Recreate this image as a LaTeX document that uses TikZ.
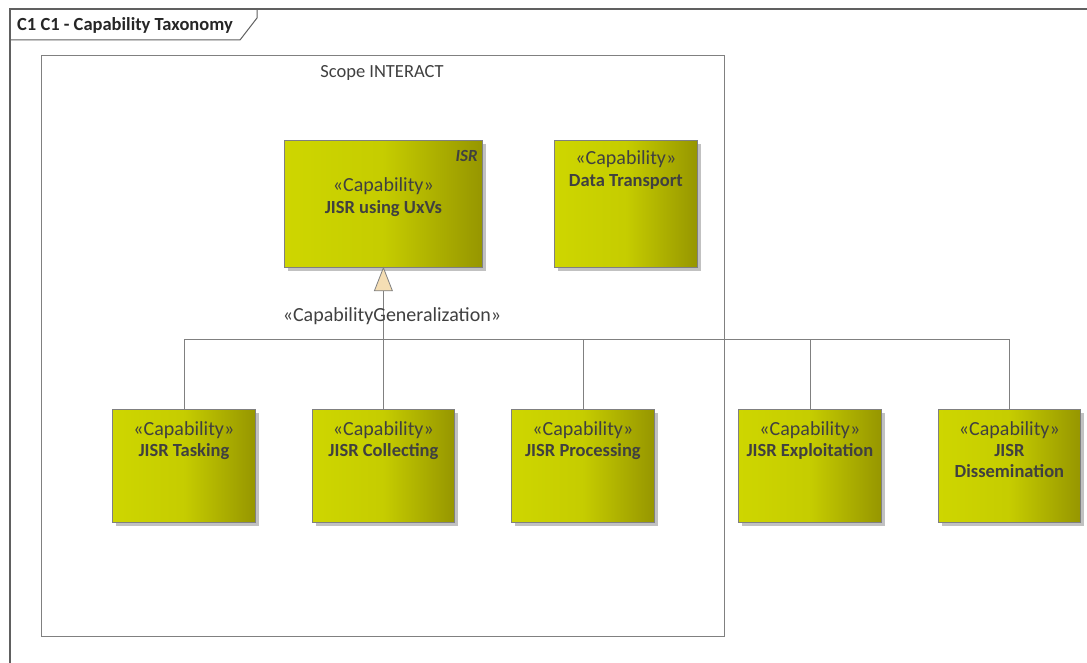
\documentclass[tikz,border=0pt]{standalone}
\usepackage{fontspec}
\setmainfont{Carlito}
\usetikzlibrary{shadows}
\definecolor{capL}{RGB}{206,214,0}
\definecolor{capR}{RGB}{150,150,0}
\definecolor{txt}{RGB}{64,64,64}
\definecolor{ln}{RGB}{128,128,128}
\definecolor{frm}{RGB}{96,96,96}
\definecolor{tri}{RGB}{245,222,180}
\begin{document}
\begin{tikzpicture}[x=1pt,y=-1pt,
  capbox/.style={draw=ln, line width=0.8pt, left color=capL, right color=capR, middle color=capL!85!capR,
    drop shadow={shadow xshift=4pt, shadow yshift=-4pt, fill=black!30, opacity=0.8},
    anchor=north west, inner sep=0pt},
  stereo/.style={text=txt, font=\fontsize{20}{22}\selectfont, anchor=base, inner sep=0pt},
  cname/.style={text=txt, font=\bfseries\fontsize{18.5}{22}\selectfont, anchor=base, inner sep=0pt},
  conn/.style={draw=ln, line width=0.8pt},
  lbl/.style={text=txt, font=\fontsize{18.5}{22}\selectfont, inner sep=0pt}
]
\useasboundingbox (0,0) rectangle (1087,663);
\fill[white] (0,0) rectangle (1087,663);
% frame
\draw[frm, line width=1.2pt] (10,663) -- (10,9) -- (1087,9);
\draw[frm, line width=1pt] (10,40) -- (240,40) -- (257,18) -- (257,9);
\node[lbl, anchor=base west, font=\bfseries\fontsize{18.5}{22}\selectfont, text=black!85] (title) at (17,31) {C1 C1 - Capability Taxonomy};
% scope
\node[draw=ln, line width=0.8pt, anchor=north west, minimum width=683pt, minimum height=581pt, inner sep=0pt] (scope) at (41,55) {};
\node[lbl, anchor=base] (scopelbl) at (382,78) {Scope INTERACT};
% top boxes
\node[capbox, minimum width=198pt, minimum height=127pt] (uxv) at (284,140) {};
\node[stereo] (uxvs) at ([yshift=-52pt]uxv.north) {«Capability»};
\node[cname] (uxvn) at ([yshift=-74pt]uxv.north) {JISR using UxVs};
\node[text=txt, font=\bfseries\itshape\fontsize{17}{20}\selectfont, anchor=base east, inner sep=0pt] (isr) at ([xshift=-5pt,yshift=-22pt]uxv.north east) {ISR};
\node[capbox, minimum width=143pt, minimum height=127pt] (dt) at (554,140) {};
\node[stereo] (dts) at ([yshift=-25pt]dt.north) {«Capability»};
\node[cname] (dtn) at ([yshift=-47pt]dt.north) {Data Transport};
% bottom boxes
\node[capbox, minimum width=143pt, minimum height=113pt] (task) at (112,409) {};
\node[stereo] (tasks) at ([yshift=-26pt]task.north) {«Capability»};
\node[cname] (taskn) at ([yshift=-47pt]task.north) {JISR Tasking};
\node[capbox, minimum width=142pt, minimum height=113pt] (coll) at (312,409) {};
\node[stereo] (colls) at ([yshift=-26pt]coll.north) {«Capability»};
\node[cname] (colln) at ([yshift=-47pt]coll.north) {JISR Collecting};
\node[capbox, minimum width=143pt, minimum height=113pt] (proc) at (511,409) {};
\node[stereo] (procs) at ([yshift=-26pt]proc.north) {«Capability»};
\node[cname] (procn) at ([yshift=-47pt]proc.north) {JISR Processing};
\node[capbox, minimum width=143pt, minimum height=113pt] (expl) at (738,409) {};
\node[stereo] (expls) at ([yshift=-26pt]expl.north) {«Capability»};
\node[cname] (expln) at ([yshift=-47pt]expl.north) {JISR Exploitation};
\node[capbox, minimum width=142pt, minimum height=113pt] (diss) at (938,409) {};
\node[stereo] (disss) at ([yshift=-26pt]diss.north) {«Capability»};
\node[cname] (dissn) at ([yshift=-47pt]diss.north) {JISR};
\node[cname] (dissn2) at ([yshift=-68pt]diss.north) {Dissemination};
% generalization
\coordinate (bus) at (0,339);
\coordinate (tribase) at ([yshift=-23pt]uxv.south);
\draw[conn] (task.north) -- (task.north |- bus) -- (diss.north |- bus) -- (diss.north);
\draw[conn] (proc.north) -- (proc.north |- bus);
\draw[conn] (expl.north) -- (expl.north |- bus);
\draw[conn] (coll.north) -- (tribase);
\draw[draw=ln, fill=tri, line width=0.8pt] (uxv.south) -- ([xshift=9pt]tribase) -- ([xshift=-9pt]tribase) -- cycle;
\node[lbl, anchor=base, font=\fontsize{20}{22}\selectfont] (genlbl) at (392,321) {«CapabilityGeneralization»};
\end{tikzpicture}
\end{document}
